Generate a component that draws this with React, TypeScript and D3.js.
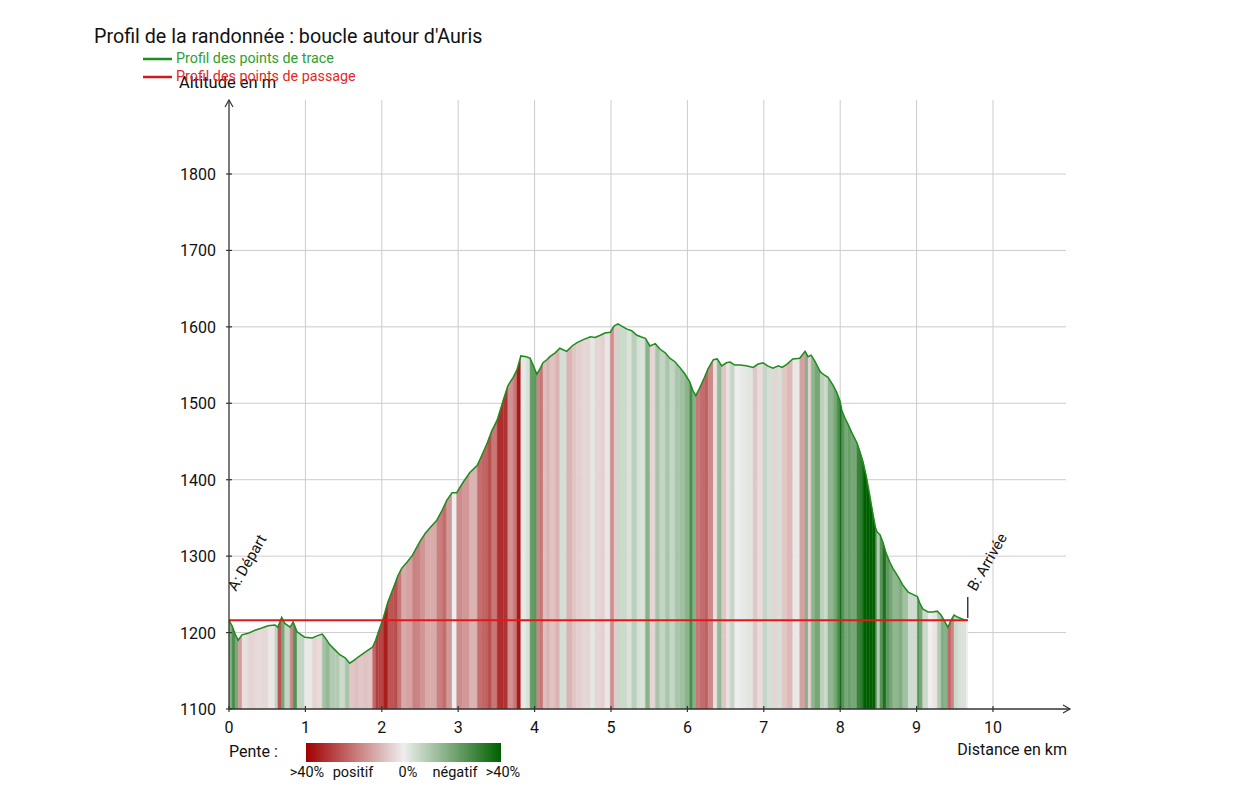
import React from "react";
import * as d3 from "d3";

const title = "Profil de la randonnée : boucle autour d'Auris";
const legendTrace = "Profil des points de trace";
const legendPassage = "Profil des points de passage";
const yTicks = [1100, 1200, 1300, 1400, 1500, 1600, 1700, 1800];
const xTicks = [0, 1, 2, 3, 4, 5, 6, 7, 8, 9, 10];
const waypointAlt = 1216;
const waypointNames = ["A: Départ", "B: Arrivée"];
const waypointDist = [0, 9.67];
const slopeLabels = [">40%", "positif", "0%", "négatif", ">40%"];

const dist = [
  0, 0.04, 0.08, 0.12, 0.17, 0.25, 0.34, 0.43, 0.51, 0.6, 0.64, 0.69, 0.73, 0.8, 0.84, 0.89, 0.99,
  1.09, 1.16, 1.22, 1.26, 1.32, 1.39, 1.45, 1.52, 1.58, 1.64, 1.69, 1.75, 1.82, 1.88, 1.92, 1.96,
  2.02, 2.08, 2.15, 2.21, 2.26, 2.33, 2.4, 2.46, 2.51, 2.57, 2.64, 2.72, 2.79, 2.85, 2.92, 2.98,
  3.06, 3.15, 3.25, 3.31, 3.38, 3.44, 3.51, 3.59, 3.65, 3.72, 3.77, 3.82, 3.89, 3.94, 3.98,
  4.03, 4.07, 4.11, 4.16, 4.2, 4.27, 4.33, 4.42, 4.49, 4.55, 4.63, 4.73, 4.79, 4.86, 4.92, 4.99,
  5.04, 5.09, 5.14, 5.21, 5.27, 5.34, 5.39, 5.45, 5.51, 5.58, 5.64, 5.71, 5.77, 5.84, 5.9, 5.97,
  6.03, 6.07, 6.11, 6.16, 6.22, 6.27, 6.34, 6.39, 6.45, 6.51, 6.56, 6.62, 6.69, 6.77, 6.86, 6.92, 6.99,
  7.05, 7.12, 7.19, 7.24, 7.3, 7.38, 7.47, 7.54, 7.58, 7.62, 7.67, 7.74, 7.79, 7.84, 7.91, 7.96,
  8.0, 8.02, 8.06, 8.1, 8.15, 8.22, 8.26, 8.3, 8.34, 8.38, 8.42, 8.46, 8.48, 8.52, 8.56, 8.6, 8.65,
  8.69, 8.76, 8.82, 8.89, 8.95, 9.01, 9.04, 9.08, 9.15, 9.21, 9.27, 9.32, 9.37, 9.41, 9.45, 9.49,
  9.54, 9.59, 9.65, 9.67,
];
const alt = [
  1216, 1209, 1198, 1190, 1197, 1199, 1203, 1206, 1209, 1210, 1207, 1220, 1212, 1207, 1214, 1201, 1194,
  1193, 1196, 1198, 1193, 1184, 1177, 1171, 1167, 1160, 1164, 1168, 1172, 1177, 1181, 1190, 1202,
  1219, 1240, 1258, 1274, 1284, 1292, 1301, 1312, 1321, 1330, 1338, 1347, 1360, 1373, 1383, 1383,
  1396, 1409, 1419, 1432, 1448, 1464, 1478, 1504, 1523, 1534, 1544, 1562, 1561, 1559, 1550,
  1538, 1545, 1553, 1557, 1561, 1566, 1572, 1568, 1575, 1579, 1583, 1587, 1586, 1589, 1592, 1593,
  1601, 1604, 1601, 1597, 1595, 1589, 1587, 1585, 1575, 1578, 1571, 1566, 1559, 1554, 1547, 1538,
  1528, 1517, 1510, 1520, 1533, 1545, 1557, 1558, 1549, 1553, 1554, 1550, 1550, 1549, 1547, 1551, 1553,
  1549, 1546, 1549, 1547, 1551, 1558, 1559, 1568, 1561, 1563, 1555, 1541, 1537, 1534, 1523, 1513,
  1502, 1491, 1481, 1473, 1462, 1448, 1436, 1423, 1405, 1383, 1360, 1338, 1332, 1328, 1318, 1304, 1292,
  1284, 1273, 1262, 1253, 1250, 1247, 1239, 1231, 1227, 1227, 1228, 1223, 1214, 1207, 1216, 1223,
  1220, 1218, 1216, 1216,
];

const FONT = "Roboto, 'Noto Sans', sans-serif";

export default function App() {
  const x = d3.scaleLinear().domain([0, 10]).range([229, 993]);
  const y = d3.scaleLinear().domain([1100, 1800]).range([709, 174]);
  const xEnd = 1070;
  const yTop = 100;
  const gridRight = 1066;

  const red = "#a00000";
  const mid = "#eeeeee";
  const green = "#006000";
  const slopeColor = (s: number) => {
    const t = Math.max(-1, Math.min(1, s / 0.4));
    return t >= 0 ? d3.interpolateRgb(mid, red)(t) : d3.interpolateRgb(mid, green)(-t);
  };

  const pts = dist.map((d, i) => ({ d, a: alt[i] }));
  const area = d3
    .area<{ d: number; a: number }>()
    .x((p) => x(p.d))
    .y0(y(1100))
    .y1((p) => y(p.a));
  const line = d3
    .line<{ d: number; a: number }>()
    .x((p) => x(p.d))
    .y((p) => y(p.a));

  const segs = pts.slice(1).map((p, i) => {
    const q = pts[i];
    const dd = (p.d - q.d) * 1000;
    const s = dd > 0 ? (p.a - q.a) / dd : 0;
    return { path: area([q, p]) as string, color: slopeColor(s) };
  });

  const gradLabelX = [307, 353, 408, 455, 503];

  return (
    <svg
      width={1256}
      height={791}
      style={{ position: "absolute", left: 0, top: 0, background: "#fff" }}
      fontFamily={FONT}
    >
      <defs>
        <linearGradient id="slopeGrad" x1="0" x2="1" y1="0" y2="0">
          <stop offset="0%" stopColor={red} />
          <stop offset="50%" stopColor={mid} />
          <stop offset="100%" stopColor={green} />
        </linearGradient>
      </defs>

      {/* grid */}
      {yTicks.slice(1).map((t) => (
        <line key={"gy" + t} x1={x(0)} x2={gridRight} y1={y(t)} y2={y(t)} stroke="#cccccc" strokeWidth={1} />
      ))}
      {xTicks.slice(1).map((t) => (
        <line key={"gx" + t} x1={x(t)} x2={x(t)} y1={yTop} y2={y(1100)} stroke="#cccccc" strokeWidth={1} />
      ))}

      {/* slope-coloured fill */}
      {segs.map((s, i) => (
        <path key={"s" + i} d={s.path} fill={s.color} stroke={s.color} strokeWidth={0.4} />
      ))}

      {/* profile line */}
      <path d={line(pts) as string} fill="none" stroke="#1e8c1e" strokeWidth={1.5} />

      {/* waypoint line */}
      <line
        x1={x(waypointDist[0])}
        x2={x(waypointDist[1])}
        y1={y(waypointAlt)}
        y2={y(waypointAlt)}
        stroke="#e01818"
        strokeWidth={2}
      />

      {/* axes */}
      <line x1={x(0)} x2={x(0)} y1={y(1100)} y2={yTop} stroke="#333" strokeWidth={1.3} />
      <path d={`M${x(0) - 4},${yTop + 7}L${x(0)},${yTop}L${x(0) + 4},${yTop + 7}`} fill="none" stroke="#333" strokeWidth={1.2} />
      <line x1={x(0)} x2={xEnd} y1={y(1100)} y2={y(1100)} stroke="#333" strokeWidth={1.3} />
      <path d={`M${xEnd - 7},${y(1100) - 4}L${xEnd},${y(1100)}L${xEnd - 7},${y(1100) + 4}`} fill="none" stroke="#333" strokeWidth={1.2} />

      {yTicks.map((t) => (
        <g key={"ty" + t}>
          <line x1={x(0) - 3} x2={x(0) + 3} y1={y(t)} y2={y(t)} stroke="#333" strokeWidth={1.2} />
          <text x={216} y={y(t) + 6} textAnchor="end" fontSize={16} fill="#111">
            {t}
          </text>
        </g>
      ))}
      {xTicks.map((t) => (
        <g key={"tx" + t}>
          <line x1={x(t)} x2={x(t)} y1={y(1100) - 3} y2={y(1100) + 3} stroke="#333" strokeWidth={1.2} />
          <text x={x(t)} y={733} textAnchor="middle" fontSize={16} fill="#111">
            {t}
          </text>
        </g>
      ))}

      {/* waypoint labels */}
      <text transform={`translate(${x(waypointDist[0]) + 7},${592}) rotate(-60)`} fontSize={15} fill="#111">
        {waypointNames[0]}
      </text>
      <line x1={x(waypointDist[1])} x2={x(waypointDist[1])} y1={597} y2={618} stroke="#111" strokeWidth={1.2} />
      <text transform={`translate(${x(waypointDist[1]) + 8},${592}) rotate(-60)`} fontSize={15} fill="#111">
        {waypointNames[1]}
      </text>

      {/* axis titles */}
      <text x={179} y={88} fontSize={16.5} fill="#111">
        Altitude en m
      </text>
      <text x={1067} y={755} textAnchor="end" fontSize={16} fill="#111">
        Distance en km
      </text>

      {/* title */}
      <text x={94} y={43} fontSize={19.7} fill="#111">
        {title}
      </text>

      {/* legend */}
      <line x1={143} x2={172} y1={59} y2={59} stroke="#1e8c1e" strokeWidth={2.5} />
      <text x={176} y={63} fontSize={14.3} fill="#2ea02e">
        {legendTrace}
      </text>
      <line x1={143} x2={172} y1={77} y2={77} stroke="#d81818" strokeWidth={2.5} />
      <text x={176} y={81} fontSize={14.3} fill="#e02828">
        {legendPassage}
      </text>

      {/* slope legend */}
      <text x={229} y={757} fontSize={16} fill="#111">
        Pente :
      </text>
      <rect x={306} y={743} width={195} height={19} fill="url(#slopeGrad)" />
      {slopeLabels.map((l, i) => (
        <text key={"sl" + i} x={gradLabelX[i]} y={777} textAnchor="middle" fontSize={14.5} fill="#111">
          {l}
        </text>
      ))}
    </svg>
  );
}
